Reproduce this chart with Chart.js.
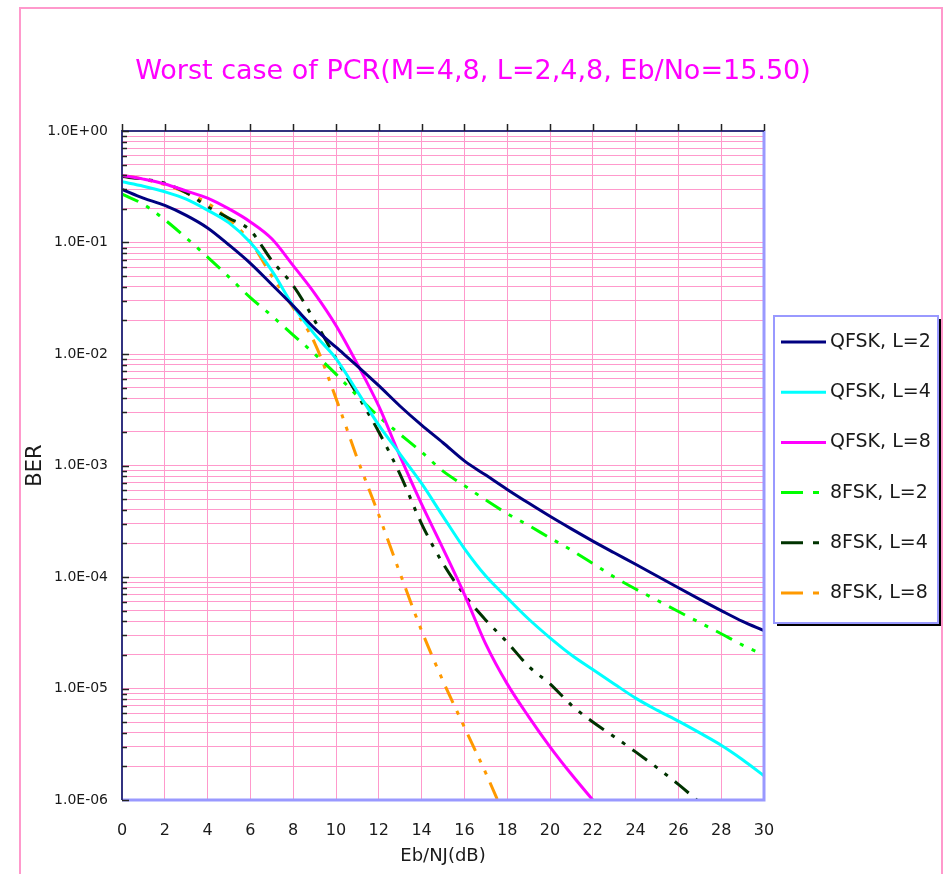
<!DOCTYPE html>
<html>
<head>
<meta charset="utf-8">
<title>Worst case of PCR</title>
<script src="https://cdn.jsdelivr.net/npm/chart.js@4.4.1/dist/chart.umd.min.js"></script>
<style>
  html, body { margin: 0; padding: 0; background: #fff; }
  #wrap { width: 946px; height: 874px; }
</style>
</head>
<body>
<div id="wrap"><canvas id="berChart" width="946" height="874"></canvas></div>
<script>
// X 값 : Eb/NJ (dB)
const ebnj = [0, 1, 2, 3, 4, 5, 6, 7, 8, 9, 10, 11, 12, 13, 14, 15, 16, 17, 18, 19, 20,
              21, 22, 23, 24, 25, 26, 27, 28, 29, 30];

// BER 값
const qfskL2 = [0.30, 0.25, 0.215, 0.175, 0.135, 0.095, 0.065, 0.042, 0.027, 0.017, 0.0115,
                0.0078, 0.0052, 0.0034, 0.0023, 0.0016, 0.0011, 0.00082, 0.00061, 0.00046, 0.00035,
                0.00027, 0.00021, 0.000165, 0.00013, 0.000102, 0.00008, 0.000063, 0.00005, 0.00004, 0.000033];
const qfskL4 = [0.35, 0.32, 0.285, 0.245, 0.195, 0.15, 0.10, 0.056, 0.027, 0.015, 0.0091,
                0.0046, 0.0023, 0.00126, 0.00069, 0.00035, 0.00018, 0.000102, 0.000065, 0.000042, 0.0000285,
                0.00002, 0.0000148, 0.000011, 0.0000082, 0.0000064, 0.0000051, 0.000004, 0.0000031, 0.0000023, 0.00000165];
const qfskL8 = [0.40, 0.37, 0.335, 0.29, 0.25, 0.20, 0.153, 0.108, 0.062, 0.035, 0.018,
                0.0081, 0.0034, 0.0012, 0.00045, 0.00018, 0.00007, 0.000025, 0.000011, 0.0000056, 0.000003,
                0.0000017, 0.000001];
const fsk8L2 = [0.272, 0.22, 0.16, 0.11, 0.074, 0.049, 0.032, 0.022, 0.0148, 0.010, 0.0066,
                0.0042, 0.00275, 0.0019, 0.00132, 0.00089, 0.00066, 0.00049, 0.00037, 0.00029, 0.000224,
                0.000174, 0.000132, 0.0001, 0.000078, 0.000062, 0.000049, 0.000039, 0.000031, 0.0000245, 0.00002];
const fsk8L4 = [0.39, 0.37, 0.34, 0.28, 0.21, 0.165, 0.128, 0.069, 0.041, 0.020, 0.0091,
                0.0043, 0.002, 0.00083, 0.0003, 0.000132, 0.000069, 0.000041, 0.000026, 0.0000158, 0.000011,
                0.0000071, 0.000005, 0.0000037, 0.0000027, 0.00000195, 0.00000138, 0.00000095];
const fsk8L8 = [0.40, 0.37, 0.33, 0.28, 0.225, 0.16, 0.102, 0.05, 0.026, 0.0126, 0.004,
                0.00115, 0.00036, 0.000107, 0.000033, 0.0000117, 0.0000045, 0.00000174, 0.00000063];

const seriesNames = ['QFSK, L=2', 'QFSK, L=4', 'QFSK, L=8', '8FSK, L=2', '8FSK, L=4', '8FSK, L=8'];
const yTickLabels = ['1.0E-06', '1.0E-05', '1.0E-04', '1.0E-03', '1.0E-02', '1.0E-01', '1.0E+00'];
const yDecades = [1e-6, 1e-5, 1e-4, 1e-3, 1e-2, 1e-1, 1];

const FONT = "'DejaVu Sans', sans-serif";
const GRID_PINK = '#ff99cc';
const DASH = [18, 9, 4, 9, 4, 9];

function decadeIndex(v) {
    const lg = Math.log10(v);
    return Math.abs(lg - Math.round(lg)) < 1e-9 ? yDecades.indexOf(Math.pow(10, Math.round(lg))) : -1;
}

function makeSet(label, data, color, dashed) {
    return {
        label: label,
        data: data,
        borderColor: color,
        backgroundColor: color,
        borderWidth: 3,
        borderDash: dashed ? DASH : [],
        pointRadius: 0,
        cubicInterpolationMode: 'monotone',
        fill: false
    };
}

// 외곽 테두리, 축선, 눈금, 범례를 직접 그린다
const plotFrame = {
    id: 'plotFrame',
    beforeDraw(chart) {
        const ctx = chart.ctx;
        ctx.save();
        ctx.fillStyle = '#fff';
        ctx.fillRect(0, 0, chart.width, chart.height);
        ctx.strokeStyle = GRID_PINK;
        ctx.lineWidth = 2;
        ctx.strokeRect(20, 8, 922, 900);
        ctx.restore();
    },
    afterDatasetsDraw(chart) {
        const { ctx, chartArea: a, scales: { x, y } } = chart;
        ctx.save();
        ctx.strokeStyle = '#9999ff';
        ctx.lineWidth = 3;
        ctx.beginPath();
        ctx.moveTo(a.right, a.top);
        ctx.lineTo(a.right, a.bottom);
        ctx.lineTo(a.left, a.bottom);
        ctx.stroke();

        ctx.strokeStyle = '#333380';
        ctx.lineWidth = 2;
        ctx.beginPath();
        ctx.moveTo(a.left, a.bottom);
        ctx.lineTo(a.left, a.top);
        ctx.lineTo(a.right, a.top);
        ctx.stroke();

        ctx.strokeStyle = '#222';
        ctx.lineWidth = 1.5;
        ctx.beginPath();
        x.ticks.forEach(t => {
            const px = Math.round(x.getPixelForValue(t.value)) + 0.5;
            ctx.moveTo(px, a.top - 7);
            ctx.lineTo(px, a.top);
        });
        y.ticks.forEach(t => {
            const py = Math.round(y.getPixelForValue(t.value)) + 0.5;
            const len = decadeIndex(t.value) >= 0 ? 7 : 5;
            ctx.moveTo(a.left, py);
            ctx.lineTo(a.left + len, py);
        });
        ctx.stroke();
        ctx.restore();
    },
    afterDraw(chart) {
        const ctx = chart.ctx;
        const box = { left: 774, top: 316, width: 164, height: 307 };
        ctx.save();
        ctx.fillStyle = '#000';
        ctx.fillRect(box.left + 3, box.top + 3, box.width, box.height);
        ctx.fillStyle = '#fff';
        ctx.fillRect(box.left, box.top, box.width, box.height);
        ctx.strokeStyle = '#9999ff';
        ctx.lineWidth = 2;
        ctx.strokeRect(box.left, box.top, box.width, box.height);

        ctx.font = '19px ' + FONT;
        ctx.textBaseline = 'middle';
        ctx.textAlign = 'left';
        chart.data.datasets.forEach((ds, i) => {
            const ry = box.top + 26 + i * 50.2;
            ctx.strokeStyle = ds.borderColor;
            ctx.lineWidth = 3;
            ctx.setLineDash(ds.borderDash.length ? [22, 10, 6, 10] : []);
            ctx.beginPath();
            ctx.moveTo(781, ry);
            ctx.lineTo(826, ry);
            ctx.stroke();
            ctx.setLineDash([]);
            ctx.fillStyle = '#1a1a1a';
            ctx.fillText(ds.label, 830, ry);
        });
        ctx.restore();
    }
};

new Chart(document.getElementById('berChart'), {
    type: 'line',
    data: {
        labels: ebnj,
        datasets: [
            makeSet(seriesNames[0], qfskL2, '#000080', false),
            makeSet(seriesNames[1], qfskL4, '#00ffff', false),
            makeSet(seriesNames[2], qfskL8, '#ff00ff', false),
            makeSet(seriesNames[3], fsk8L2, '#00ff00', true),
            makeSet(seriesNames[4], fsk8L4, '#003300', true),
            makeSet(seriesNames[5], fsk8L8, '#ff9900', true)
        ]
    },
    options: {
        responsive: false,
        devicePixelRatio: 1,
        animation: false,
        layout: { padding: 0 },
        scales: {
            x: {
                type: 'linear',
                min: 0,
                max: 30,
                afterFit(scale) { scale.height = 74; },
                grid: { color: GRID_PINK, drawTicks: false, lineWidth: 1 },
                border: { display: false },
                ticks: {
                    stepSize: 2,
                    autoSkip: false,
                    maxRotation: 0,
                    padding: 21,
                    color: '#1a1a1a',
                    font: { family: FONT, size: 16 }
                },
                title: {
                    display: true,
                    text: 'Eb/NJ(dB)',
                    color: '#1a1a1a',
                    font: { family: FONT, size: 18 },
                    padding: { top: 0, bottom: 7 }
                }
            },
            y: {
                type: 'logarithmic',
                min: 1e-6,
                max: 1,
                afterFit(scale) { scale.width = 122; },
                afterBuildTicks(scale) {
                    const ticks = [];
                    yDecades.forEach((d, i) => {
                        const top = i === yDecades.length - 1 ? 1 : 9;
                        for (let m = 1; m <= top; m++) ticks.push({ value: m * d });
                    });
                    scale.ticks = ticks;
                },
                grid: { color: GRID_PINK, drawTicks: false, lineWidth: 1 },
                border: { display: false },
                ticks: {
                    autoSkip: false,
                    padding: 14,
                    color: '#1a1a1a',
                    font: { family: FONT, size: 14 },
                    callback(v) {
                        const i = decadeIndex(v);
                        return i >= 0 ? yTickLabels[i] : '';
                    }
                },
                title: {
                    display: true,
                    text: 'BER',
                    color: '#1a1a1a',
                    font: { family: FONT, size: 21 },
                    padding: { top: 23, bottom: 0 }
                }
            },
            // 범례 자리를 비워두는 빈 축
            legendSpace: {
                type: 'linear',
                axis: 'y',
                position: 'right',
                afterFit(scale) { scale.width = 182; },
                grid: { display: false },
                border: { display: false },
                ticks: { display: false }
            }
        },
        plugins: {
            legend: { display: false },
            tooltip: { enabled: false },
            title: {
                display: true,
                text: 'Worst case of PCR(M=4,8, L=2,4,8, Eb/No=15.50)',
                color: '#ff00ff',
                font: { family: FONT, size: 27, weight: 'normal' },
                padding: { top: 56, bottom: 42.6 }
            }
        }
    },
    plugins: [plotFrame]
});
</script>
</body>
</html>
